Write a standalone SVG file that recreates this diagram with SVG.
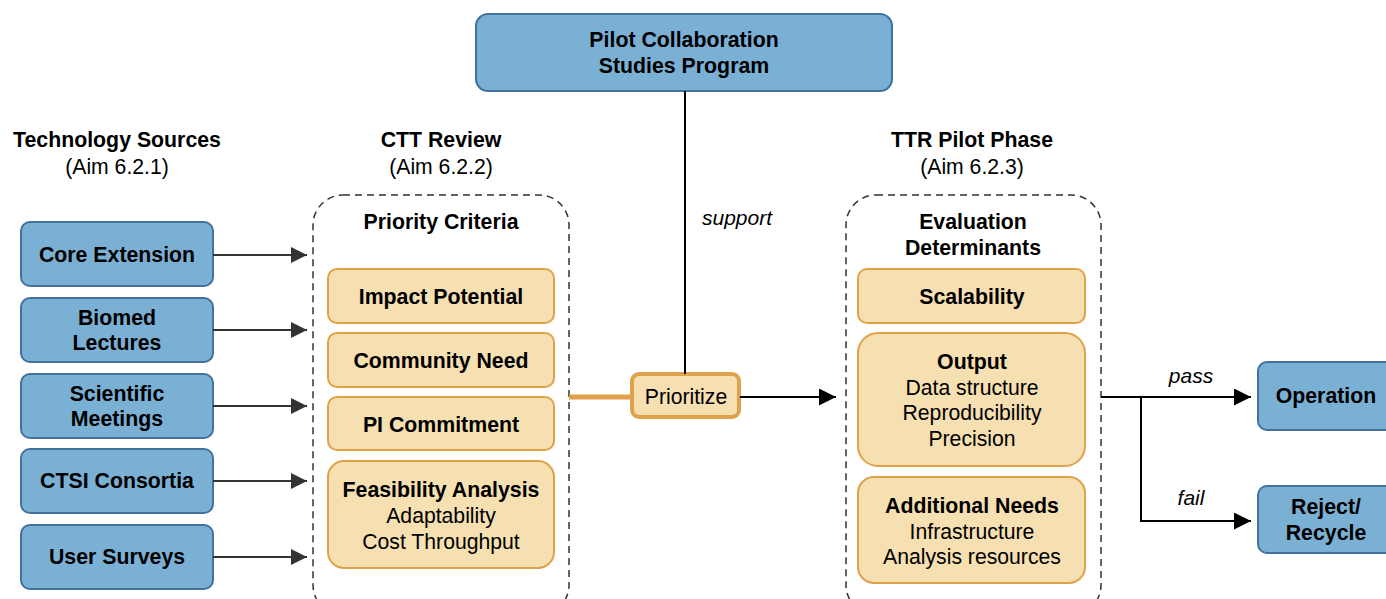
<svg xmlns="http://www.w3.org/2000/svg" width="1386" height="599" viewBox="0 0 1386 599">
<defs>
<style>
text{font-family:"Liberation Sans",Arial,sans-serif;fill:#000;text-anchor:middle;dominant-baseline:central}
.b{font-weight:bold;font-size:21.3px}
.r{font-size:21.2px}
.i{font-style:italic;font-size:21px}
.blue{fill:#7BB0D5;stroke:#41719C;stroke-width:2}
.org{fill:#F6DFB0;stroke:#DFA24B;stroke-width:2}
.dash{fill:none;stroke:#333;stroke-width:1.5;stroke-dasharray:7,5}
.con{fill:none;stroke:#333;stroke-width:2}
.blk{fill:none;stroke:#000;stroke-width:2}
</style>
<marker id="ag" viewBox="0 0 10 10" refX="10" refY="5" markerWidth="16" markerHeight="16" markerUnits="userSpaceOnUse" orient="auto"><path d="M0,0 L10,5 L0,10 z" fill="#333"/></marker>
<marker id="ab" viewBox="0 0 10 10" refX="10" refY="5" markerWidth="17" markerHeight="17" markerUnits="userSpaceOnUse" orient="auto"><path d="M0,0 L10,5 L0,10 z" fill="#000"/></marker>
</defs>

<g id="headers">
<text class="b" x="117" y="140">Technology Sources</text>
<text class="r" x="117" y="166">(Aim 6.2.1)</text>
<text class="b" x="441" y="140">CTT Review</text>
<text class="r" x="441" y="166">(Aim 6.2.2)</text>
<text class="b" x="972" y="140">TTR Pilot Phase</text>
<text class="r" x="972" y="166">(Aim 6.2.3)</text>
</g>

<g id="pilot-program">
<rect class="blue" x="476" y="14" width="416" height="77" rx="12"/>
<text class="b" x="684" y="40">Pilot Collaboration</text>
<text class="b" x="684" y="66">Studies Program</text>
</g>

<g id="core-extension"><rect class="blue" x="21" y="222" width="192" height="64" rx="9"/><text class="b" x="117" y="255">Core Extension</text></g>
<g id="biomed-lectures"><rect class="blue" x="21" y="298" width="192" height="64" rx="9"/><text class="b" x="117" y="318">Biomed</text><text class="b" x="117" y="343">Lectures</text></g>
<g id="scientific-meetings"><rect class="blue" x="21" y="374" width="192" height="64" rx="9"/><text class="b" x="117" y="394">Scientific</text><text class="b" x="117" y="419">Meetings</text></g>
<g id="ctsi-consortia"><rect class="blue" x="21" y="449" width="192" height="64" rx="9"/><text class="b" x="117" y="481">CTSI Consortia</text></g>
<g id="user-surveys"><rect class="blue" x="21" y="525" width="192" height="64" rx="9"/><text class="b" x="117" y="557">User Surveys</text></g>

<g id="ctt-review">
<rect class="dash" x="313" y="195" width="256" height="420" rx="30"/>
<text class="b" x="441" y="222">Priority Criteria</text>
</g>
<g id="impact-potential"><rect class="org" x="328" y="269" width="226" height="54" rx="9"/><text class="b" x="441" y="297">Impact Potential</text></g>
<g id="community-need"><rect class="org" x="328" y="333" width="226" height="54" rx="9"/><text class="b" x="441" y="361">Community Need</text></g>
<g id="pi-commitment"><rect class="org" x="328" y="397" width="226" height="53" rx="9"/><text class="b" x="441" y="425">PI Commitment</text></g>
<g id="feasibility-analysis"><rect class="org" x="328" y="461" width="226" height="107" rx="16"/>
<text class="b" x="441" y="490">Feasibility Analysis</text>
<text class="r" x="441" y="515">Adaptability</text>
<text class="r" x="441" y="541">Cost Throughput</text></g>

<g id="prioritize"><rect x="632" y="374" width="107" height="43" rx="7" fill="#F6DFB0" stroke="#DFA24B" stroke-width="4"/><text class="r" x="686" y="396">Prioritize</text></g>

<g id="ttr-pilot">
<rect class="dash" x="846" y="195" width="255" height="420" rx="30"/>
<text class="b" x="973" y="222">Evaluation</text>
<text class="b" x="973" y="248">Determinants</text>
</g>
<g id="scalability"><rect class="org" x="858" y="269" width="227" height="54" rx="9"/><text class="b" x="972" y="297">Scalability</text></g>
<g id="output"><rect class="org" x="858" y="333" width="227" height="133" rx="20"/>
<text class="b" x="972" y="362">Output</text>
<text class="r" x="972" y="387">Data structure</text>
<text class="r" x="972" y="412">Reproducibility</text>
<text class="r" x="972" y="438">Precision</text></g>
<g id="additional-needs"><rect class="org" x="858" y="477" width="227" height="106" rx="16"/>
<text class="b" x="972" y="506">Additional Needs</text>
<text class="r" x="972" y="531">Infrastructure</text>
<text class="r" x="972" y="556">Analysis resources</text></g>

<g id="operation"><rect class="blue" x="1258" y="362" width="140" height="68" rx="9"/><text class="b" x="1326" y="396">Operation</text></g>
<g id="reject-recycle"><rect class="blue" x="1258" y="486" width="140" height="67" rx="9"/><text class="b" x="1326" y="507">Reject/</text><text class="b" x="1326" y="533">Recycle</text></g>

<g id="connectors">
<line class="con" x1="213" y1="255" x2="307" y2="255" marker-end="url(#ag)"/>
<line class="con" x1="213" y1="330" x2="307" y2="330" marker-end="url(#ag)"/>
<line class="con" x1="213" y1="406" x2="307" y2="406" marker-end="url(#ag)"/>
<line class="con" x1="213" y1="481" x2="307" y2="481" marker-end="url(#ag)"/>
<line class="con" x1="213" y1="557" x2="307" y2="557" marker-end="url(#ag)"/>
<line x1="569" y1="397" x2="632" y2="397" stroke="#DFA24B" stroke-width="5"/>
<line class="blk" x1="685" y1="91" x2="685" y2="374"/>
<text class="i" x="737" y="217">support</text>
<line class="blk" x1="740" y1="397" x2="836" y2="397" marker-end="url(#ab)"/>
<line class="blk" x1="1101" y1="397" x2="1251" y2="397" marker-end="url(#ab)"/>
<polyline class="blk" points="1141,397 1141,521 1251,521" marker-end="url(#ab)"/>
<text class="i" x="1191" y="375">pass</text>
<text class="i" x="1191" y="497">fail</text>
</g>
</svg>
